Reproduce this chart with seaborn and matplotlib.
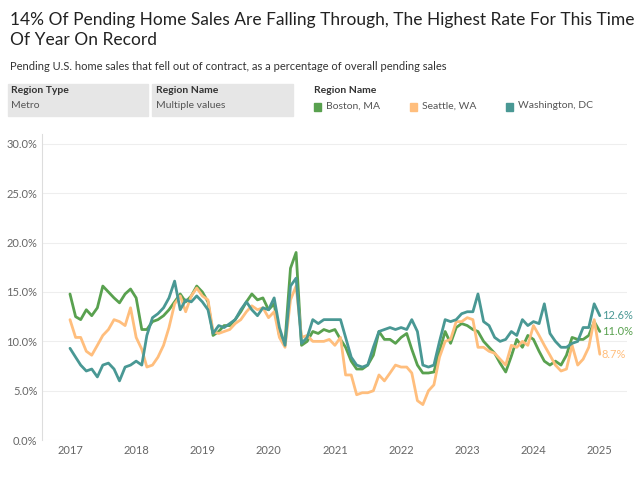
import pandas as pd
import numpy as np
import matplotlib
matplotlib.use("Agg")
import matplotlib.pyplot as plt
import matplotlib.patches as mpatches
import seaborn as sns

boston = [14.8, 12.5, 12.2, 13.2, 12.6, 13.4, 15.6, 15.0, 14.4, 13.9, 14.8, 15.3,
          14.4, 11.2, 11.2, 12.0, 12.2, 12.6, 13.2, 14.0, 14.8, 14.0, 14.6, 15.6,
          15.0, 14.0, 10.6, 11.0, 11.6, 11.6, 12.2, 13.0, 14.0, 14.8, 14.2, 14.4,
          13.2, 13.8, 10.6, 10.0, 17.4, 19.0, 9.6, 10.0, 11.0, 10.8, 11.2, 11.0,
          11.2, 10.2, 9.4, 8.0, 7.2, 7.2, 7.6, 8.6, 11.0, 10.2, 10.2, 9.8,
          10.4, 10.8, 9.2, 7.6, 6.8, 6.8, 6.9, 9.0, 11.0, 9.8, 11.4, 11.8,
          11.6, 11.2, 11.0, 10.0, 9.4, 8.8, 7.8, 6.9, 8.5, 10.2, 9.4, 10.6,
          10.2, 9.0, 8.0, 7.6, 8.0, 7.6, 8.6, 10.4, 10.2, 10.2, 10.6,
          12.0, 11.0]
seattle = [12.2, 10.4, 10.4, 9.0, 8.6, 9.6, 10.6, 11.2, 12.2, 12.0, 11.6, 13.4,
           10.4, 9.2, 7.4, 7.6, 8.4, 9.6, 11.4, 13.8, 14.6, 13.0, 14.6, 15.4,
           14.6, 14.2, 11.0, 10.8, 11.0, 11.2, 11.8, 12.2, 13.0, 13.6, 13.2, 13.4,
           12.4, 13.0, 10.4, 9.4, 14.2, 15.6, 10.4, 10.6, 10.0, 10.0, 10.0, 10.2,
           9.6, 10.4, 6.6, 6.6, 4.6, 4.8, 4.8, 5.0, 6.6, 6.0, 6.8, 7.6,
           7.4, 7.4, 6.8, 4.0, 3.6, 5.0, 5.6, 8.4, 10.0, 10.2, 12.0, 12.0,
           12.4, 12.2, 9.4, 9.4, 9.0, 8.8, 8.2, 7.6, 9.6, 9.4, 10.0, 9.6,
           11.6, 10.6, 9.6, 8.6, 7.6, 7.0, 7.2, 9.6, 7.6, 8.2, 9.4,
           12.2, 8.7]
washington = [9.3, 8.4, 7.6, 7.0, 7.2, 6.4, 7.6, 7.8, 7.2, 6.0, 7.4, 7.6,
              8.0, 7.6, 10.6, 12.4, 12.8, 13.4, 14.4, 16.1, 13.2, 14.2, 14.0, 14.6,
              14.0, 13.2, 10.8, 11.6, 11.4, 11.8, 12.2, 13.2, 14.0, 13.2, 12.6, 13.4,
              13.2, 14.4, 11.4, 9.6, 15.6, 16.4, 9.8, 10.4, 12.2, 11.8, 12.2, 12.2,
              12.2, 12.2, 10.4, 8.4, 7.6, 7.4, 7.6, 9.4, 11.0, 11.2, 11.4, 11.2,
              11.4, 11.2, 12.2, 11.0, 7.6, 7.4, 7.6, 10.0, 12.2, 12.0, 12.2, 12.8,
              13.0, 13.0, 14.8, 12.0, 11.6, 10.4, 10.0, 10.2, 11.0, 10.6, 12.2, 11.6,
              12.0, 11.8, 13.8, 10.8, 10.0, 9.4, 9.4, 9.8, 10.0, 11.4, 11.4,
              13.8, 12.6]
regions = ["Boston, MA", "Seattle, WA", "Washington, DC"]
colors = {"Boston, MA": "#59a14f", "Seattle, WA": "#ffbe7d", "Washington, DC": "#499894"}
years = list(range(2017, 2026))

dates = pd.date_range("2017-01-01", periods=len(boston), freq="MS")
df = pd.concat([
    pd.DataFrame({"date": dates, "value": vals, "region": name})
    for name, vals in zip(regions, [boston, seattle, washington])
])

sns.set_style("white")
plt.rcParams["font.family"] = ["Lato", "DejaVu Sans"]

fig = plt.figure(figsize=(6.4, 4.8), dpi=100)
ax = fig.add_axes([0.066, 0.083, 0.914, 0.638])

sns.lineplot(data=df, x="date", y="value", hue="region", palette=colors,
             linewidth=2, legend=False, ax=ax)

for name in regions:
    last = df[df.region == name].iloc[-1]
    ax.text(last["date"] + pd.Timedelta(days=12), last["value"], f"{last['value']:.1f}%",
            color=colors[name], fontsize=8, va="center")

ax.set_ylim(0, 31)
ax.set_yticks(np.arange(0, 31, 5))
ax.set_yticklabels([f"{v:.1f}%" for v in np.arange(0, 31, 5)], fontsize=8, color="#666666")
ax.set_xticks([pd.Timestamp(f"{y}-01-01") for y in years])
ax.set_xticklabels([str(y) for y in years], fontsize=8, color="#666666")
ax.set_xlim(pd.Timestamp("2016-08-01"), pd.Timestamp("2025-06-01"))
ax.set_xlabel("")
ax.set_ylabel("")
ax.grid(axis="y", color="#eeeeee", linewidth=0.8)
for s in ["top", "right", "bottom"]:
    ax.spines[s].set_visible(False)
ax.spines["left"].set_color("#dddddd")
ax.tick_params(length=0)

fig.text(0.015, 0.975, "14% Of Pending Home Sales Are Falling Through, The Highest Rate For This Time\nOf Year On Record",
         fontsize=12.5, va="top", color="#222222", linespacing=1.3)
fig.text(0.015, 0.872, "Pending U.S. home sales that fell out of contract, as a percentage of overall pending sales",
         fontsize=8, va="top", color="#333333")

for x0, lab, val in [(0.012, "Region Type", "Metro"), (0.238, "Region Name", "Multiple values")]:
    fig.patches.append(mpatches.Rectangle((x0, 0.758), 0.22, 0.068, transform=fig.transFigure,
                                          color="#e6e6e6", zorder=0))
    fig.text(x0 + 0.005, 0.82, lab, fontsize=7.5, fontweight="bold", va="top", color="#333333")
    fig.text(x0 + 0.005, 0.79, val, fontsize=7.5, va="top", color="#555555")

fig.text(0.49, 0.82, "Region Name", fontsize=7.5, fontweight="bold", va="top", color="#333333")
for x0, name in zip([0.49, 0.64, 0.79], regions):
    fig.patches.append(mpatches.Rectangle((x0, 0.768), 0.012, 0.018, transform=fig.transFigure,
                                          color=colors[name]))
    fig.text(x0 + 0.02, 0.789, name, fontsize=7.5, va="top", color="#555555")

fig.savefig("out.png", dpi=100)
